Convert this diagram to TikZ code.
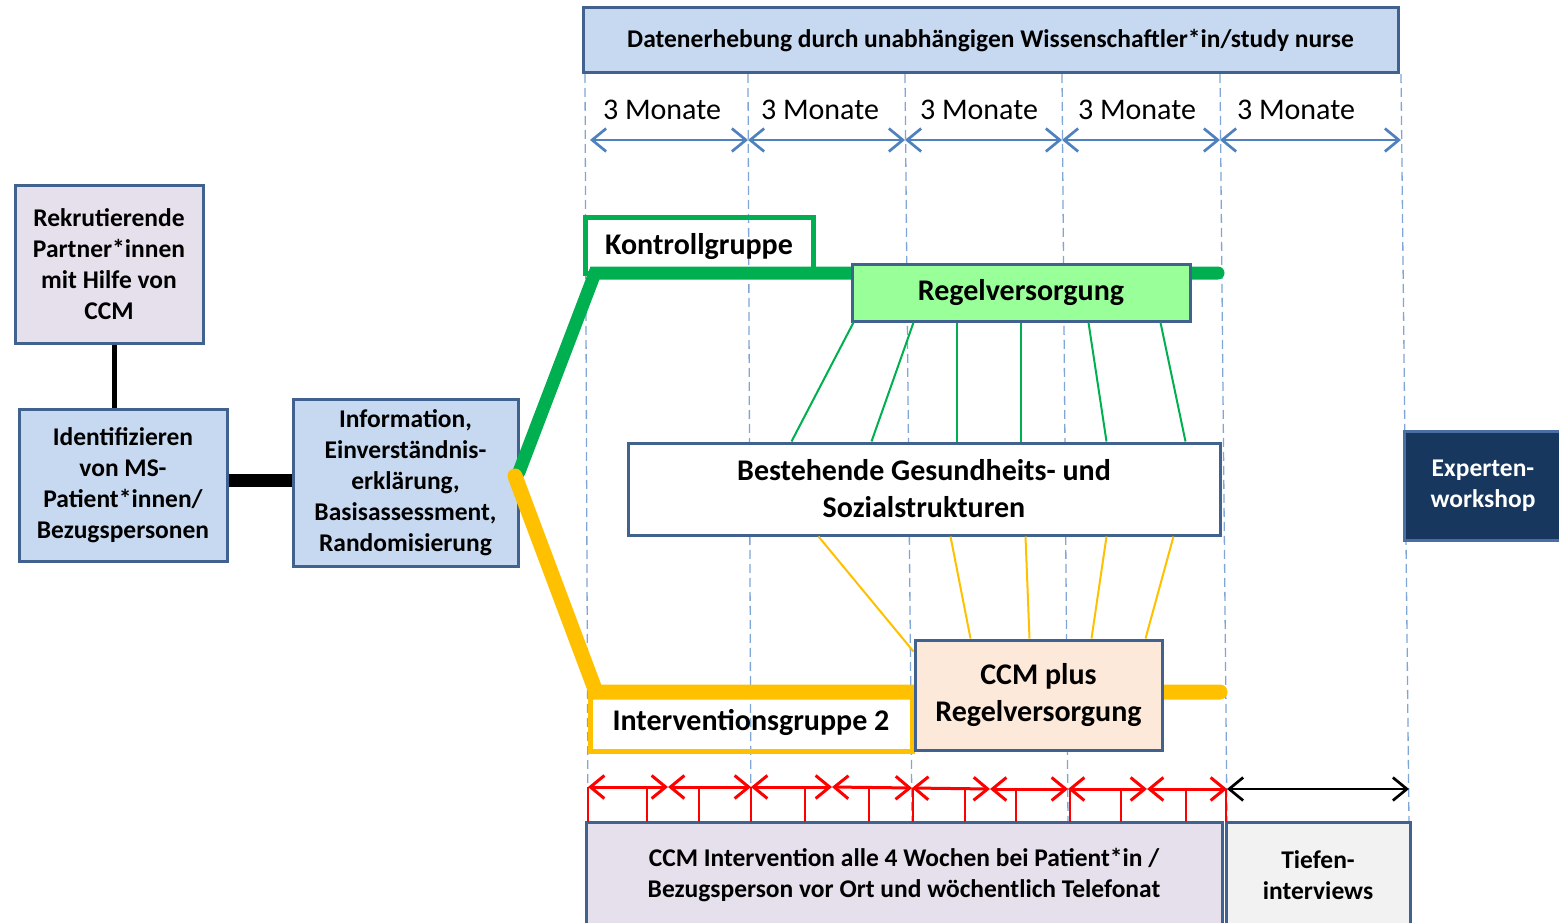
\documentclass[tikz,border=0pt]{standalone}
\usepackage{fontspec}
\setmainfont{Carlito}
\usetikzlibrary{arrows.meta}

\definecolor{boxline}{HTML}{41628E}
\definecolor{lightblue}{HTML}{C6D9F1}
\definecolor{lavender}{HTML}{E5E0EC}
\definecolor{gridblue}{HTML}{7FA6D6}
\definecolor{arrowblue}{HTML}{4F81BD}
\definecolor{ggreen}{HTML}{00B050}
\definecolor{lgreen}{HTML}{99FF99}
\definecolor{gold}{HTML}{FFC000}
\definecolor{peach}{HTML}{FDE9D9}
\definecolor{navy}{HTML}{17375E}
\definecolor{navyline}{HTML}{4A6FA5}
\definecolor{lgrey}{HTML}{F2F2F2}

\tikzset{
  box/.style={draw=boxline, line width=3, inner sep=0, align=center,
    font=\fontsize{25.5}{31}\selectfont\bfseries},
  bigtext/.style={font=\fontsize{30}{37}\selectfont\bfseries},
  grid/.style={gridblue, line width=1.3, dash pattern=on 9 off 5},
  barb/.tip={Straight Barb[length=14,width=23]},
  month/.style={arrowblue, line width=2.7, barb-barb},
  week/.style={red, line width=3, barb-barb},
  tail/.style={black, line width=2.7, barb-barb},
  weektick/.style={red, line width=1.6},
  monthlabel/.style={font=\fontsize{30}{37}\selectfont, inner sep=0},
  groupbox/.style={line width=5, inner sep=0, align=center, bigtext},
  spoke/.style={line width=2},
}

\begin{document}
\begin{tikzpicture}[x=1pt,y=-1pt]
\useasboundingbox (0,0) rectangle (1559,923);

% time grid
\foreach \xt/\xb in {585/588, 748/751, 905/912, 1062/1068, 1220/1227, 1401/1409}
  \draw[grid] (\xt,74) -- (\xb,822);

% group labels (open frames, grid shows through)
\node[groupbox, draw=ggreen, minimum width=228, minimum height=56, text depth=0.2em] (kontroll) at (699,245) {Kontrollgruppe};
\node[groupbox, draw=gold, minimum width=322, minimum height=58] (interv) at (751,722) {Interventionsgruppe 2};

% main boxes on the left
\node[box, fill=lavender, minimum width=188, minimum height=157] (rekr) at (109,264.5)
  {Rekrutierende\\Partner*innen\\mit Hilfe von\\CCM};
\node[box, fill=lightblue, minimum width=208, minimum height=152] (ident) at (123,485)
  {Identifizieren\\von MS-\\Patient*innen/\\Bezugspersonen};
\node[box, fill=lightblue, minimum width=225, minimum height=167] (info) at (405.5,482.5)
  {Information,\\Einverständnis-\\erklärung,\\Basisassessment,\\Randomisierung};

% randomisation branches
\draw[ggreen, line width=13, line cap=round] (519,472) -- (595,273) -- (1218,273);
\draw[gold, line width=15, line cap=round] (515,476) -- (596,692) -- (1220,692);

% care boxes
\node[box, bigtext, fill=lgreen, minimum width=338, minimum height=57] (regel) at (1021,292.5) {Regelversorgung};
\node[box, bigtext, fill=white, minimum width=592, minimum height=92] (best) at (924,489)
  {Bestehende Gesundheits- und\\Sozialstrukturen};
\node[box, bigtext, fill=peach, minimum width=247, minimum height=110] (ccmplus) at (1038.5,695)
  {CCM plus\\Regelversorgung};

% links between usual care and existing structures
\foreach \a/\b in {3/165, 63/245, 106/330, 170/394, 238/480, 310/559}
  \draw[ggreen, spoke] ([xshift=\a]regel.south west) -- ([xshift=\b]best.north west);
\draw[gold, spoke] ([xshift=192]best.south west) -- ([yshift=-13]ccmplus.north west);
\foreach \a/\b in {324/57, 399/116, 480/178, 547/232}
  \draw[gold, spoke] ([xshift=\a]best.south west) -- ([xshift=\b]ccmplus.north west);

% recruitment connectors
\draw[black, line width=5] ([xshift=5]rekr.south) -- ([xshift=-9]ident.north);
\draw[black, line width=13] ([yshift=5]ident.east) -- ([yshift=2.5]info.west);

% data collection
\node[box, fill=lightblue, minimum width=815, minimum height=65] (daten) at (990.5,40.5)
  {Datenerhebung durch unabhängigen Wissenschaftler*in/study nurse};

% three-month intervals
\coordinate (m0) at (590,140);
\coordinate (m1) at (748,140);
\coordinate (m2) at (905,140);
\coordinate (m3) at (1062,140);
\coordinate (m4) at (1220,140);
\coordinate (m5) at (1401,140);
\draw[month] (m0) -- (m1);
\draw[month] (m1) -- (m2);
\draw[month] (m2) -- (m3);
\draw[month] (m3) -- (m4);
\draw[month] (m4) -- (m5);
\node[monthlabel] (lab1) at (662,110) {3 Monate};
\node[monthlabel] (lab2) at (820,110) {3 Monate};
\node[monthlabel] (lab3) at (979,110) {3 Monate};
\node[monthlabel] (lab4) at (1137,110) {3 Monate};
\node[monthlabel] (lab5) at (1296,110) {3 Monate};

% expert workshop
\node[box, draw=navyline, fill=navy, text=white, minimum width=158, minimum height=109] (experten) at (1483,485.5)
  {Experten-\\workshop};

% intervention and interviews
\node[box, fill=lavender, minimum width=636, minimum height=106] (ccmint) at (904,875)
  {CCM Intervention alle 4 Wochen bei Patient*in /\\Bezugsperson vor Ort und wöchentlich Telefonat};
\node[box, fill=lgrey, minimum width=184, minimum height=106] (tiefen) at (1318,875)
  {Tiefen-\\interviews};

% four-weekly visits and weekly calls
\coordinate (w0) at (588,787);
\coordinate (w1) at (668,787);
\coordinate (w2) at (751,787);
\coordinate (w3) at (832,787);
\coordinate (w4) at (912,788);
\coordinate (w5) at (990,789);
\coordinate (w6) at (1068,789);
\coordinate (w7) at (1147,789);
\coordinate (w8) at (1227,789);
\coordinate (w9) at (1409,789);
\foreach \tx/\ty in {588/787, 647/786, 699/789, 751/787, 805/787, 869/788, 913/788,
                     965/788, 1016/789, 1070/789, 1121/789, 1186/789, 1226/789}
  \draw[weektick] (\tx,\ty) -- (\tx,822);
\draw[week] (w0) -- (w1);
\draw[week] (w1) -- (w2);
\draw[week] (w2) -- (w3);
\draw[week] (w3) -- (w4);
\draw[week] (w4) -- (w5);
\draw[week] (w5) -- (w6);
\draw[week] (w6) -- (w7);
\draw[week] (w7) -- (w8);
\draw[tail] (w8) -- (w9);
\end{tikzpicture}
\end{document}
